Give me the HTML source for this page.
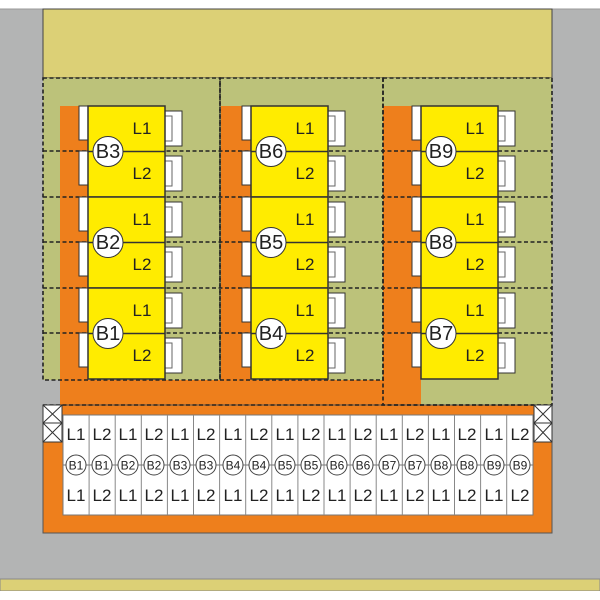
<!DOCTYPE html>
<html><head><meta charset="utf-8"><style>body{margin:0}svg{display:block}text{font-family:"Liberation Sans",sans-serif;fill:#222}</style></head><body>
<svg width="600" height="600" viewBox="0 0 600 600" xmlns="http://www.w3.org/2000/svg">
<rect width="600" height="600" fill="#b3b4b4"/>
<rect x="0" y="0" width="600" height="9" fill="#fff"/>
<line x1="0" y1="9" x2="600" y2="9" stroke="#999"/>
<rect x="43" y="9" width="509" height="69" fill="#dcd076" stroke="#444" stroke-width="1"/>
<rect x="0" y="579" width="600" height="12" fill="#dcd076" stroke="#888"/>
<rect x="0" y="591" width="600" height="9" fill="#fff"/>
<g fill="#bcc27a">
<rect x="43" y="78" width="177" height="302"/><rect x="220" y="78" width="163" height="302"/><rect x="383" y="78" width="169" height="327"/>
</g>
<g fill="#ee7f1c">
<rect x="60" y="106" width="28" height="299"/><rect x="221" y="106" width="30" height="299"/><rect x="383" y="106" width="38" height="299"/>
<rect x="60" y="380" width="361" height="25"/><rect x="43" y="405" width="509" height="128" stroke="#555" stroke-width="1"/>
</g>
<g stroke="#222" stroke-width="1.6" stroke-dasharray="4,2.5" fill="none">
<rect x="43" y="78" width="177" height="302"/><rect x="220" y="78" width="163" height="302"/><rect x="383" y="78" width="169" height="327"/>
<line x1="43" y1="151" x2="552" y2="151"/><line x1="43" y1="197" x2="552" y2="197"/><line x1="43" y1="242" x2="552" y2="242"/><line x1="43" y1="288" x2="552" y2="288"/><line x1="43" y1="333" x2="552" y2="333"/><line x1="43" y1="405" x2="552" y2="405"/>
</g>
<defs>
<g id="blk">
<rect x="-9" y="0" width="9" height="34" fill="#fff" stroke="#333"/>
<rect x="-9" y="45" width="9" height="34" fill="#fff" stroke="#333"/>
<rect x="77" y="5" width="17" height="35" fill="#fff" stroke="#333"/>
<rect x="77" y="10" width="7" height="25" fill="#fff" stroke="#666"/>
<rect x="77" y="50" width="17" height="35" fill="#fff" stroke="#333"/>
<rect x="77" y="55" width="7" height="25" fill="#fff" stroke="#666"/>
<rect x="0" y="0" width="77" height="91" fill="#ffec00" stroke="#333" stroke-width="1.5"/>
<line x1="0" y1="45.5" x2="77" y2="45.5" stroke="#333" stroke-width="1.5"/>
<circle cx="20" cy="45.5" r="15" fill="#fff" stroke="#333"/>
</g>
</defs>
<use href="#blk" x="88" y="106"/><use href="#blk" x="88" y="197"/><use href="#blk" x="88" y="288"/>
<use href="#blk" x="251" y="106"/><use href="#blk" x="251" y="197"/><use href="#blk" x="251" y="288"/>
<use href="#blk" x="421" y="106"/><use href="#blk" x="421" y="197"/><use href="#blk" x="421" y="288"/>
<g font-size="20" text-anchor="middle">
<text x="108" y="158">B3</text><text x="108" y="249">B2</text><text x="108" y="340">B1</text>
<text x="271" y="158">B6</text><text x="271" y="249">B5</text><text x="271" y="340">B4</text>
<text x="441" y="158">B9</text><text x="441" y="249">B8</text><text x="441" y="340">B7</text>
</g>
<g font-size="17" text-anchor="middle">
<text x="142" y="134">L1</text><text x="142" y="179">L2</text><text x="142" y="225">L1</text><text x="142" y="270">L2</text><text x="142" y="316">L1</text><text x="142" y="361">L2</text>
<text x="305" y="134">L1</text><text x="305" y="179">L2</text><text x="305" y="225">L1</text><text x="305" y="270">L2</text><text x="305" y="316">L1</text><text x="305" y="361">L2</text>
<text x="475" y="134">L1</text><text x="475" y="179">L2</text><text x="475" y="225">L1</text><text x="475" y="270">L2</text><text x="475" y="316">L1</text><text x="475" y="361">L2</text>
</g>
<g stroke="#333" fill="#fff">
<rect x="43" y="405" width="19" height="18"/><rect x="43" y="423" width="19" height="19"/>
<rect x="534" y="405" width="18" height="18"/><rect x="534" y="423" width="18" height="19"/>
<path d="M43 405L62 423M62 405L43 423M43 423L62 442M62 423L43 442M534 405L552 423M552 405L534 423M534 423L552 442M552 423L534 442" fill="none"/>
</g>
<rect x="63" y="415" width="470" height="100" fill="#fff" stroke="#777"/>
<g stroke="#888">
<line x1="89.1" y1="415" x2="89.1" y2="515"/><line x1="115.2" y1="415" x2="115.2" y2="515"/><line x1="141.3" y1="415" x2="141.3" y2="515"/><line x1="167.4" y1="415" x2="167.4" y2="515"/><line x1="193.5" y1="415" x2="193.5" y2="515"/><line x1="219.6" y1="415" x2="219.6" y2="515"/><line x1="245.7" y1="415" x2="245.7" y2="515"/><line x1="271.8" y1="415" x2="271.8" y2="515"/><line x1="297.9" y1="415" x2="297.9" y2="515"/><line x1="324" y1="415" x2="324" y2="515"/><line x1="350.1" y1="415" x2="350.1" y2="515"/><line x1="376.2" y1="415" x2="376.2" y2="515"/><line x1="402.3" y1="415" x2="402.3" y2="515"/><line x1="428.4" y1="415" x2="428.4" y2="515"/><line x1="454.5" y1="415" x2="454.5" y2="515"/><line x1="480.6" y1="415" x2="480.6" y2="515"/><line x1="506.7" y1="415" x2="506.7" y2="515"/>
<line x1="63" y1="465" x2="533" y2="465" stroke="#777"/>
</g>
<g fill="#fff" stroke="#444">
<circle cx="76" cy="465" r="10"/><circle cx="102" cy="465" r="10"/><circle cx="128" cy="465" r="10"/><circle cx="154" cy="465" r="10"/><circle cx="180" cy="465" r="10"/><circle cx="206" cy="465" r="10"/><circle cx="233" cy="465" r="10"/><circle cx="259" cy="465" r="10"/><circle cx="285" cy="465" r="10"/><circle cx="311" cy="465" r="10"/><circle cx="337" cy="465" r="10"/><circle cx="363" cy="465" r="10"/><circle cx="389" cy="465" r="10"/><circle cx="415" cy="465" r="10"/><circle cx="441" cy="465" r="10"/><circle cx="467" cy="465" r="10"/><circle cx="494" cy="465" r="10"/><circle cx="520" cy="465" r="10"/>
</g>
<g font-size="17" text-anchor="middle">
<text x="76" y="440">L1</text><text x="102" y="440">L2</text><text x="128" y="440">L1</text><text x="154" y="440">L2</text><text x="180" y="440">L1</text><text x="206" y="440">L2</text><text x="233" y="440">L1</text><text x="259" y="440">L2</text><text x="285" y="440">L1</text><text x="311" y="440">L2</text><text x="337" y="440">L1</text><text x="363" y="440">L2</text><text x="389" y="440">L1</text><text x="415" y="440">L2</text><text x="441" y="440">L1</text><text x="467" y="440">L2</text><text x="494" y="440">L1</text><text x="520" y="440">L2</text>
<text x="76" y="501">L1</text><text x="102" y="501">L2</text><text x="128" y="501">L1</text><text x="154" y="501">L2</text><text x="180" y="501">L1</text><text x="206" y="501">L2</text><text x="233" y="501">L1</text><text x="259" y="501">L2</text><text x="285" y="501">L1</text><text x="311" y="501">L2</text><text x="337" y="501">L1</text><text x="363" y="501">L2</text><text x="389" y="501">L1</text><text x="415" y="501">L2</text><text x="441" y="501">L1</text><text x="467" y="501">L2</text><text x="494" y="501">L1</text><text x="520" y="501">L2</text>
</g>
<g font-size="12" text-anchor="middle">
<text x="76" y="469.5">B1</text><text x="102" y="469.5">B1</text><text x="128" y="469.5">B2</text><text x="154" y="469.5">B2</text><text x="180" y="469.5">B3</text><text x="206" y="469.5">B3</text><text x="233" y="469.5">B4</text><text x="259" y="469.5">B4</text><text x="285" y="469.5">B5</text><text x="311" y="469.5">B5</text><text x="337" y="469.5">B6</text><text x="363" y="469.5">B6</text><text x="389" y="469.5">B7</text><text x="415" y="469.5">B7</text><text x="441" y="469.5">B8</text><text x="467" y="469.5">B8</text><text x="494" y="469.5">B9</text><text x="520" y="469.5">B9</text>
</g>
</svg>
</body></html>
